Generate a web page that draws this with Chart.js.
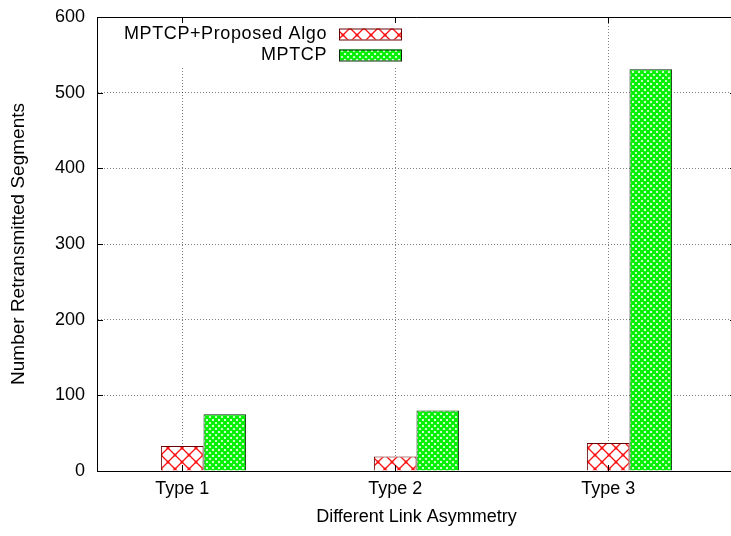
<!DOCTYPE html>
<html>
<head>
<meta charset="utf-8">
<style>
  html, body { margin: 0; padding: 0; overflow: hidden; background: #fff; width: 731px; height: 536px; }
  canvas { display: block; }
</style>
<script src="https://cdn.jsdelivr.net/npm/chart.js@4/dist/chart.umd.min.js"></script>
</head>
<body>
<canvas id="c" width="740" height="536" style="width:740px;height:536px"></canvas>
<script>
// Retransmitted segments per link-asymmetry type
const categories = ['Type 1', 'Type 2', 'Type 3'];
const proposedAlgo = [33, 19, 37];
const mptcp = [75, 80, 531];
const yTicks = [0, 100, 200, 300, 400, 500, 600];
const seriesNames = ['MPTCP+Proposed Algo', 'MPTCP'];

const FONT = { family: '"Liberation Sans", Arial, sans-serif', size: 18 };

// Hatch fills: sparse red cross-hatch and dense green cross-hatch
function makePattern(size, bg, color, width, dots) {
  const t = document.createElement('canvas');
  t.width = size; t.height = size;
  const g = t.getContext('2d');
  g.fillStyle = bg; g.fillRect(0, 0, size, size);
  g.strokeStyle = color; g.lineWidth = width;
  g.beginPath();
  g.moveTo(-1, -1); g.lineTo(size + 1, size + 1);
  g.moveTo(size + 1, -1); g.lineTo(-1, size + 1);
  g.stroke();
  if (dots) {
    g.fillStyle = color;
    [[0, 0], [size, 0], [0, size], [size, size], [size / 2, size / 2]].forEach(([x, y]) => {
      g.beginPath(); g.arc(x, y, dots, 0, Math.PI * 2); g.fill();
    });
  }
  return document.getElementById('c').getContext('2d').createPattern(t, 'repeat');
}
const redHatch = makePattern(14, '#ffffff', '#ff1010', 1.3, 1.5);
const greenHatch = makePattern(6, '#ffffff', '#00f000', 2.3, 0);

const swatches = [
  { fill: redHatch, stroke: '#6b0000' },
  { fill: greenHatch, stroke: '#0d2a0d' }
];

// Inward ticks, top frame line and the key box
const framePlugin = {
  id: 'frame',
  afterDatasetsDraw(chart) {
    const { ctx, chartArea: a, scales } = chart;
    ctx.save();
    // key box, opaque over the grid
    ctx.fillStyle = '#ffffff';
    ctx.fillRect(a.left + 8, a.top + 4, 305, 46);
    ctx.font = FONT.size + 'px ' + FONT.family;
    ctx.fillStyle = '#000';
    ctx.textAlign = 'right';
    ctx.textBaseline = 'middle';
    ctx.letterSpacing = '0.6px';
    seriesNames.forEach((name, i) => {
      const y = a.top + 17 + i * 21;
      ctx.fillText(name, a.left + 230, y);
      ctx.fillStyle = swatches[i].fill;
      ctx.fillRect(a.left + 242, y - 5.5, 63, 11);
      ctx.strokeStyle = swatches[i].stroke;
      ctx.lineWidth = 1;
      ctx.strokeRect(a.left + 242.5, y - 5, 62, 11);
      ctx.fillStyle = '#000';
    });
    ctx.letterSpacing = '0px';

    ctx.strokeStyle = '#000';
    ctx.lineWidth = 1;
    ctx.beginPath();
    // top frame line
    ctx.moveTo(a.left, Math.round(a.top) + 0.5);
    ctx.lineTo(a.right, Math.round(a.top) + 0.5);
    // y ticks pointing inward
    scales.y.ticks.forEach(t => {
      const py = Math.round(scales.y.getPixelForValue(t.value)) + 0.5;
      ctx.moveTo(a.left, py); ctx.lineTo(a.left + 6, py);
      ctx.moveTo(a.right, py); ctx.lineTo(a.right - 6, py);
    });
    // x ticks pointing inward, bottom and top
    scales.x.ticks.forEach(t => {
      const px = Math.round(scales.x.getPixelForValue(t.value)) + 0.5;
      ctx.moveTo(px, a.bottom); ctx.lineTo(px, a.bottom - 6);
      ctx.moveTo(px, a.top); ctx.lineTo(px, a.top + 6);
    });
    ctx.stroke();
    ctx.restore();
  }
};

const gridStyle = { color: 'rgba(0,0,0,0.5)', lineWidth: 1, drawTicks: false, offset: false };
const borderStyle = { display: true, color: '#000', width: 1, dash: [1, 2] };

new Chart(document.getElementById('c'), {
  type: 'bar',
  data: {
    datasets: [
      { label: '', data: categories.map((c, i) => ({ x: i, y: null })) },
      {
        label: seriesNames[0],
        data: categories.map((c, i) => ({ x: i, y: proposedAlgo[i] })),
        backgroundColor: redHatch, borderColor: '#6b0000', borderWidth: 1
      },
      {
        label: seriesNames[1],
        data: categories.map((c, i) => ({ x: i, y: mptcp[i] })),
        backgroundColor: greenHatch, borderColor: '#0d2a0d', borderWidth: 1
      }
    ]
  },
  options: {
    responsive: false,
    animation: false,
    layout: { padding: { left: 0, top: 17, right: 4, bottom: 0 } },
    datasets: { bar: { categoryPercentage: 0.6, barPercentage: 1 } },
    plugins: { legend: { display: false }, tooltip: { enabled: false } },
    scales: {
      x: {
        type: 'linear',
        offset: false,
        min: -0.4, max: 2.6,
        afterBuildTicks: s => { s.ticks = categories.map((c, i) => ({ value: i })); },
        afterFit: s => { s.height = 65; s.paddingLeft = 0; s.paddingRight = 0; },
        ticks: { callback: v => categories[v], font: FONT, color: '#000', padding: 7, autoSkip: false, maxRotation: 0 },
        grid: gridStyle,
        border: borderStyle,
        title: { display: true, text: 'Different Link Asymmetry', font: FONT, color: '#000', padding: { top: 0, bottom: 8.5 } }
      },
      y: {
        min: 0, max: 600,
        afterBuildTicks: s => { s.ticks = yTicks.map(v => ({ value: v })); },
        afterFit: s => { s.width = 97; s.paddingTop = 0; s.paddingBottom = 0; },
        ticks: { font: FONT, color: '#000', padding: 12 },
        grid: gridStyle,
        border: borderStyle,
        title: {
          display: true, text: 'Number Retransmitted Segments',
          font: { family: FONT.family, size: 19 }, color: '#000', padding: { top: 7.5, bottom: 0 }
        }
      }
    }
  },
  plugins: [framePlugin]
});
</script>
</body>
</html>
